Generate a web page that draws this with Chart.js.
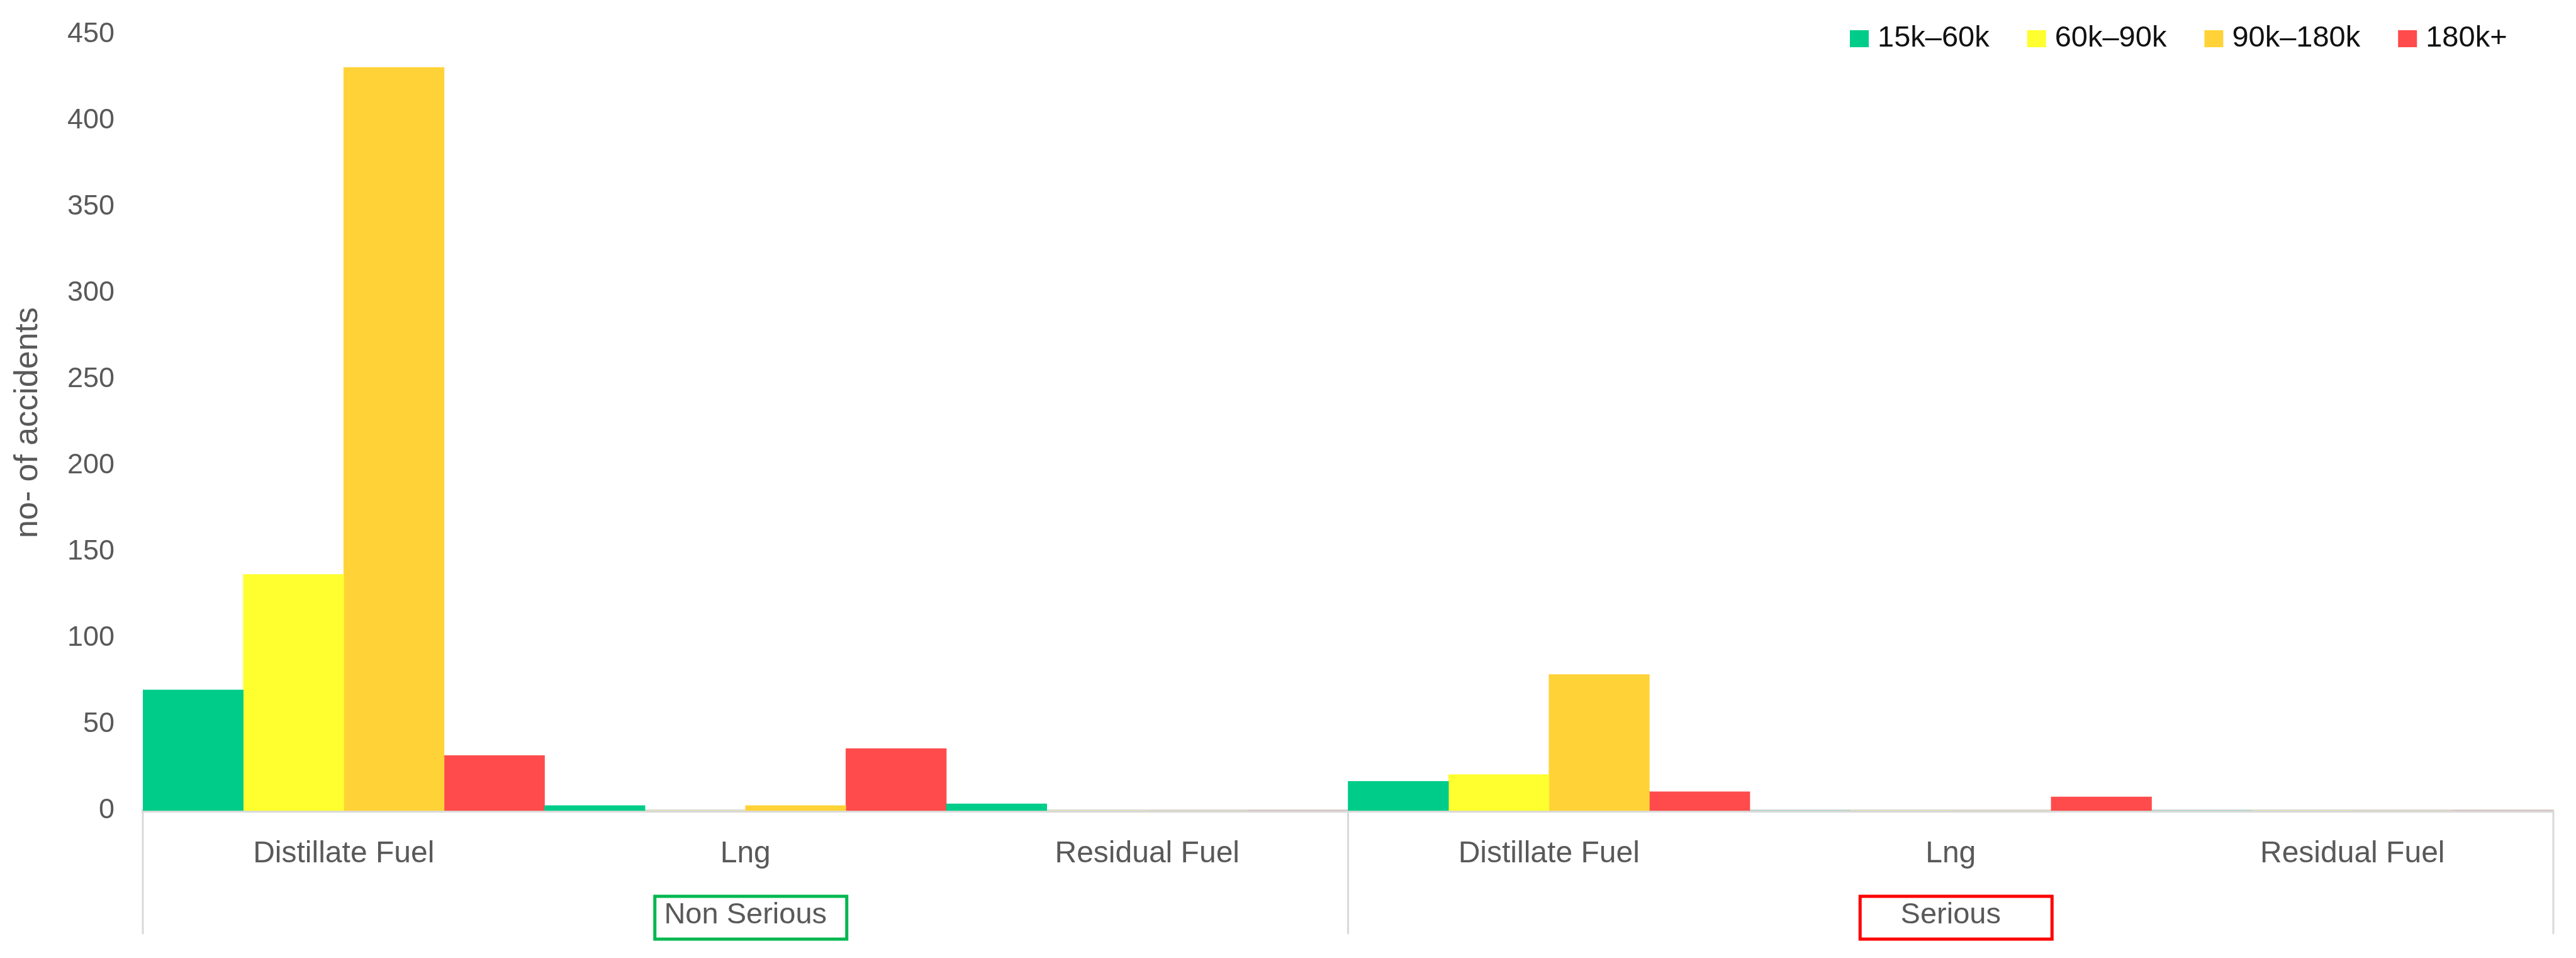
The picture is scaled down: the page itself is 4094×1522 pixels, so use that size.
<!DOCTYPE html>
<html lang="en">
<head>
  <meta charset="UTF-8">
  <title>No. of accidents by fuel type and ship size</title>
  <script src="https://cdn.jsdelivr.net/npm/chart.js"></script>
  <style>
    body { margin: 0; padding: 0; background: #ffffff; }
    #wrap { width: 4094px; height: 1522px; position: relative; }
  </style>
</head>
<body>
  <div id="wrap"><canvas id="accChart"></canvas></div>

  <script>
    // Categories
    var groups = ['Non Serious', 'Serious'];
    var fuels = ['Distillate Fuel', 'Lng', 'Residual Fuel'];
    var sizeBands = ['15k\u201360k', '60k\u201390k', '90k\u2013180k', '180k+'];

    // Values: Non Serious (3 fuels) then Serious (3 fuels)
    var band15to60 = [70, 3, 4, 17, 0, 0];
    var band60to90 = [137, 0, 0, 21, 0, 0];
    var band90to180 = [431, 3, 0, 79, 0, 0];
    var band180plus = [32, 36, 0, 11, 8, 0];

    // Y axis ticks
    var yMin = 0, yMax = 450, yStep = 50;

    var barColors = ['#00cc8a', '#ffff2f', '#ffd338', '#ff4b4b'];
    var groupBoxColors = ['#00b84f', '#ff0000'];
    var textGray = '#595959';
    var lineGray = '#d9d9d9';
    var fontFamily = '"Liberation Sans", Arial, sans-serif';

    var labels = [];
    groups.forEach(function() {
      fuels.forEach(function(f) { labels.push(f); });
    });

    var seriesValues = [band15to60, band60to90, band90to180, band180plus];
    var datasets = sizeBands.map(function(name, i) {
      return {
        label: name,
        data: seriesValues[i],
        backgroundColor: barColors[i],
        borderWidth: 0,
        categoryPercentage: 1.0,
        barPercentage: 1.0
      };
    });

    // Separators and the group labels under the fuel labels
    var groupAxisPlugin = {
      id: 'groupAxis',
      afterDraw: function(chart) {
        var ctx = chart.ctx;
        var area = chart.chartArea;
        var x = chart.scales.x;
        var per = fuels.length;
        var catW = x.getPixelForValue(1) - x.getPixelForValue(0);
        ctx.save();
        ctx.strokeStyle = lineGray;
        ctx.lineWidth = 3;
        for (var g = 0; g <= groups.length; g++) {
          var px;
          if (g === groups.length) px = x.getPixelForValue(g * per - 1) + catW / 2;
          else px = x.getPixelForValue(g * per) - catW / 2;
          ctx.beginPath();
          ctx.moveTo(px, area.bottom);
          ctx.lineTo(px, 1484);
          ctx.stroke();
        }
        ctx.font = '47px ' + fontFamily;
        ctx.textAlign = 'center';
        ctx.textBaseline = 'middle';
        groups.forEach(function(name, g) {
          var first = x.getPixelForValue(g * per);
          var last = x.getPixelForValue(g * per + per - 1);
          var cx = (first + last) / 2;
          ctx.strokeStyle = groupBoxColors[g];
          ctx.lineWidth = 5;
          ctx.strokeRect(cx + 8 - 152, 1424, 305, 68);
          ctx.fillStyle = textGray;
          ctx.fillText(name, cx, 1454);
        });
        ctx.restore();
      }
    };

    // Legend drawn inside the plot, top right
    var topLegendPlugin = {
      id: 'topLegend',
      afterDraw: function(chart) {
        var ctx = chart.ctx;
        ctx.save();
        ctx.font = '47px ' + fontFamily;
        ctx.textAlign = 'left';
        ctx.textBaseline = 'middle';
        var xPos = 2940;
        chart.data.datasets.forEach(function(ds) {
          ctx.fillStyle = ds.backgroundColor;
          ctx.fillRect(xPos, 48, 30, 27);
          ctx.fillStyle = '#111111';
          ctx.fillText(ds.label, xPos + 44, 61);
          xPos += 44 + ctx.measureText(ds.label).width + 60;
        });
        ctx.restore();
      }
    };

    var ctx = document.getElementById('accChart').getContext('2d');
    new Chart(ctx, {
      type: 'bar',
      data: { labels: labels, datasets: datasets },
      plugins: [groupAxisPlugin, topLegendPlugin],
      options: {
        responsive: true,
        maintainAspectRatio: false,
        animation: false,
        layout: { padding: { top: 55, right: 36, bottom: 0, left: 0 } },
        plugins: {
          legend: { display: false },
          tooltip: { enabled: false }
        },
        scales: {
          x: {
            grid: { display: false, drawTicks: false },
            border: { display: true, color: lineGray, width: 5 },
            ticks: {
              color: textGray,
              padding: 40,
              maxRotation: 0,
              autoSkip: false,
              font: { family: fontFamily, size: 48 }
            },
            afterFit: function(scale) { scale.height = 234; }
          },
          y: {
            min: yMin,
            max: yMax,
            grid: { display: false, drawTicks: false },
            border: { display: false },
            ticks: {
              stepSize: yStep,
              color: textGray,
              padding: 45,
              font: { family: fontFamily, size: 45 }
            },
            title: {
              display: true,
              text: 'no- of accidents',
              color: textGray,
              padding: { top: 13, bottom: 0 },
              font: { family: fontFamily, size: 52 }
            },
            afterFit: function(scale) {
              scale.width = 227;
              // keep tick padding from pushing the plot top down
              scale.paddingTop = 0;
              scale.paddingBottom = 0;
            }
          }
        }
      }
    });
  </script>
</body>
</html>
